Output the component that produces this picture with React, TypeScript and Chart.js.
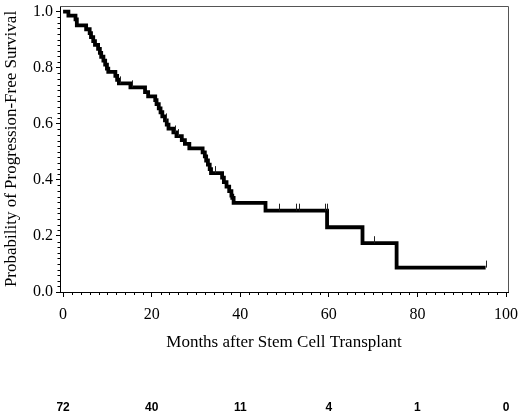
import React, { useEffect, useRef } from "react";
import { Chart, registerables } from "chart.js";

Chart.register(...registerables);

// Kaplan-Meier estimate (months, survival probability)
const eventTimes = [
  0, 1.2, 2.8, 3.1, 5.2, 6.0, 6.3, 6.8, 7.2, 7.9, 8.3, 8.6, 9.1, 9.5, 9.9, 10.2,
  11.8, 12.2, 12.6, 15.2, 18.5, 19.2, 20.8, 21.1, 21.6, 22.0, 22.4, 23.0, 23.4,
  23.8, 24.9, 25.6, 26.8, 27.5, 28.5, 31.5, 32.0, 32.3, 32.7, 33.1, 33.4, 35.9,
  36.3, 36.9, 37.5, 38.0, 38.2, 38.5, 45.7, 59.6, 67.6, 75.3, 95.4,
];
const survival = [
  1.0, 0.986, 0.972, 0.951, 0.937, 0.923, 0.909, 0.895, 0.881, 0.867, 0.853,
  0.839, 0.825, 0.811, 0.797, 0.785, 0.771, 0.757, 0.744, 0.73, 0.713, 0.698,
  0.684, 0.67, 0.655, 0.641, 0.626, 0.612, 0.597, 0.583, 0.569, 0.556, 0.542,
  0.528, 0.512, 0.498, 0.484, 0.469, 0.454, 0.438, 0.424, 0.408, 0.392, 0.376,
  0.36, 0.344, 0.336, 0.318, 0.29, 0.231, 0.174, 0.087, 0.087,
];
const censorTimes = [12.8, 15.5, 23.3, 25.3, 25.9, 34.3, 48.8, 52.5, 53.3, 59.1, 59.5, 70.3, 95.4];

const xTicks = [0, 20, 40, 60, 80, 100];
const yTicks = [0, 0.2, 0.4, 0.6, 0.8, 1.0];
const atRisk = [72, 40, 11, 4, 1, 0];

const xTitle = "Months after Stem Cell Transplant";
const yTitle = "Probability of Progression-Free Survival";

function survAt(t: number): number {
  let s = survival[0];
  for (let i = 0; i < eventTimes.length; i++) {
    if (eventTimes[i] <= t) s = survival[i];
  }
  return s;
}

const decorPlugin = {
  id: "decor",
  afterDraw(chart: any) {
    const { ctx, chartArea: a, scales } = chart;
    const x = scales.x;
    const y = scales.y;
    ctx.save();
    // frame top / right
    ctx.strokeStyle = "#555";
    ctx.lineWidth = 1;
    ctx.beginPath();
    ctx.moveTo(a.left, Math.round(a.top) + 0.5);
    ctx.lineTo(Math.round(a.right) + 0.5, Math.round(a.top) + 0.5);
    ctx.lineTo(Math.round(a.right) + 0.5, a.bottom);
    ctx.stroke();
    // minor ticks
    ctx.strokeStyle = "#000";
    ctx.beginPath();
    for (let v = 2; v < 100; v += 2) {
      if (v % 20 === 0) continue;
      const px = Math.round(x.getPixelForValue(v)) + 0.5;
      ctx.moveTo(px, a.bottom);
      ctx.lineTo(px, a.bottom + 3);
    }
    for (let k = 1; k < 51; k++) {
      if (k % 10 === 0) continue;
      const py = Math.round(y.getPixelForValue(k * 0.02)) + 0.5;
      ctx.moveTo(a.left, py);
      ctx.lineTo(a.left - 2.5, py);
    }
    ctx.stroke();
    // censor marks
    ctx.strokeStyle = "#222";
    ctx.lineWidth = 1;
    ctx.beginPath();
    censorTimes.forEach((t) => {
      const px = Math.round(x.getPixelForValue(t)) + 0.5;
      const py = y.getPixelForValue(survAt(t));
      ctx.moveTo(px, py);
      ctx.lineTo(px, py - 7);
    });
    ctx.stroke();
    // numbers at risk
    ctx.fillStyle = "#000";
    ctx.font = 'bold 12px "Liberation Sans", Arial, sans-serif';
    ctx.textAlign = "center";
    ctx.textBaseline = "middle";
    atRisk.forEach((n, i) => {
      ctx.fillText(String(n), x.getPixelForValue(xTicks[i]), 408);
    });
    ctx.restore();
  },
};

export default function App() {
  const ref = useRef<HTMLCanvasElement | null>(null);
  useEffect(() => {
    document.body.style.margin = "0";
    if (!ref.current) return;
    Chart.defaults.color = "#000";
    const family = '"Liberation Serif", "Times New Roman", serif';
    const tickFont = { family, size: 16 };
    const titleFont = { family, size: 17 };
    const chart = new Chart(ref.current, {
      type: "line",
      data: {
        datasets: [
          {
            data: eventTimes.map((t, i) => ({ x: t, y: survival[i] })),
            stepped: true,
            borderColor: "#000",
            borderWidth: 3.8,
            pointRadius: 0,
            fill: false,
            borderJoinStyle: "miter",
          },
        ],
      },
      options: {
        responsive: false,
        animation: false,
        layout: { padding: { top: 6, right: 12, left: 0, bottom: 0 } },
        plugins: { legend: { display: false }, tooltip: { enabled: false } },
        scales: {
          x: {
            type: "linear",
            min: -0.7,
            max: 100.45,
            afterBuildTicks: (s: any) => {
              s.ticks = xTicks.map((v) => ({ value: v }));
            },
            afterFit: (s: any) => {
              s.height = 126;
              s.paddingLeft = 0;
              s.paddingRight = 0;
            },
            ticks: { font: tickFont, padding: 8, maxRotation: 0, callback: (v: any) => String(v) },
            grid: { drawOnChartArea: false, tickLength: 5, color: "#000" },
            border: { color: "#000", width: 1 },
            title: { display: true, text: xTitle, font: titleFont, padding: { top: 0, bottom: 65 } },
          },
          y: {
            type: "linear",
            min: 0,
            max: 1.02,
            afterBuildTicks: (s: any) => {
              s.ticks = yTicks.map((v) => ({ value: v }));
            },
            afterFit: (s: any) => {
              s.width = 60;
              s.paddingTop = 0;
              s.paddingBottom = 0;
            },
            ticks: { font: tickFont, padding: 3, callback: (v: any) => Number(v).toFixed(1) },
            grid: { drawOnChartArea: false, tickLength: 4, color: "#000" },
            border: { color: "#000", width: 1 },
            title: { display: true, text: yTitle, font: titleFont, padding: { top: 1, bottom: 0 } },
          },
        },
      },
      plugins: [decorPlugin],
    } as any);
    return () => chart.destroy();
  }, []);
  return (
    <div style={{ width: 520, height: 418 }}>
      <canvas ref={ref} width={520} height={418} />
    </div>
  );
}
